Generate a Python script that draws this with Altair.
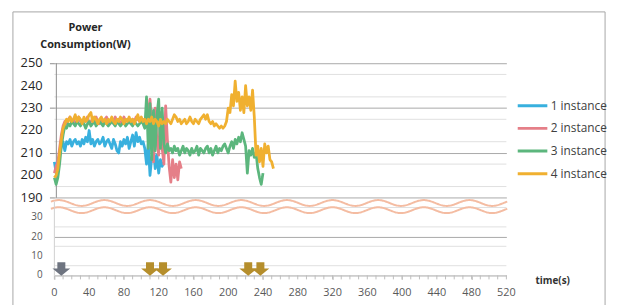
import altair as alt
import pandas as pd

series_names = ["1 instance", "2 instance", "3 instance", "4 instance"]
series_colors = ["#38b0de", "#e57f88", "#5cb67d", "#f0b030"]
sample_step = 2  # seconds between samples

blue = [206, 201, 204, 209, 213, 215, 211, 215, 214, 216,
        213, 215, 216, 214, 215, 213, 216, 214, 217, 215,
        220, 214, 216, 213, 215, 216, 214, 215, 217, 213,
        215, 216, 214, 212, 216, 214, 211, 210, 215, 213,
        216, 214, 217, 212, 215, 218, 213, 219, 215, 217,
        214, 215, 212, 205, 214, 200, 208, 212, 203, 209,
        201, 207, 204, 206]

pink = [201, 204, 206, 212, 218, 222, 224, 223, 225, 226, 224,
        225, 223, 224, 226, 224, 223, 225, 224, 226, 223,
        224, 225, 224, 226, 224, 223, 225, 224, 225, 226,
        224, 223, 225, 224, 226, 224, 225, 223, 224, 226,
        224, 225, 224, 223, 225, 224, 226, 225, 224, 225,
        225, 223, 226, 228, 234, 222, 206, 230, 215, 209, 228, 212,
        205, 231, 216, 204, 197, 207, 199, 205, 198, 206, 203]

green = [199, 196, 199, 205, 213, 218, 222, 221, 223, 222, 224,
         223, 222, 224, 223, 222, 224, 223, 221, 223, 224,
         222, 223, 224, 222, 223, 224, 223, 222, 224, 223,
         222, 223, 224, 223, 222, 224, 223, 222, 223, 224,
         222, 223, 224, 223, 222, 224, 223, 222, 223, 224,
         223, 221, 235, 212, 232, 207, 229, 211, 227, 234, 212, 230, 214, 210, 214,
         211, 212, 210, 213, 211, 212, 209, 211, 213, 210,
         212, 211, 209, 212, 210, 211, 213, 209, 212, 211,
         210, 212, 213, 210, 212, 209, 211, 213, 210, 212,
         211, 213, 214, 212, 210, 213, 215, 212, 216, 214,
         217, 215, 219, 216, 213, 201, 211, 209, 212, 208,
         210, 203, 199, 196, 201]

orange = [199, 200, 203, 210, 216, 221, 223, 225, 224, 226, 224,
          225, 227, 224, 226, 225, 223, 226, 224, 225, 227,
          228, 224, 226, 225, 223, 225, 226, 224, 225, 223,
          225, 224, 226, 224, 223, 225, 224, 226, 225, 223,
          225, 224, 226, 224, 225, 223, 225, 227, 224, 226,
          224, 225, 223, 225, 224, 226, 223, 225, 224, 222,
          225, 223, 224, 223, 225, 224, 223, 225, 227, 226,
          224, 225, 223, 224, 225, 223, 224, 226, 224, 223,
          225, 224, 223, 225, 226, 227, 225, 227, 224, 223,
          224, 222, 223, 222, 221, 222, 221, 222, 224,
          230, 228, 236, 231, 242, 233, 237, 229, 235, 228,
          240, 231, 235, 229, 238, 226, 209, 213, 206, 212,
          204, 214, 210, 213, 207, 206, 203]

gray_arrow_times = [8]
gold_arrow_times = [110, 125, 223, 237]
arrow_level = 3.3

x_label_values = list(range(0, 521, 40))
x_minor_ticks = list(range(0, 521, 10))
y_upper_labels = [190, 200, 210, 220, 230, 240, 250]
y_lower_labels = [0, 10, 20, 30]
y_minor_values = [5, 15, 25, 35, 195, 205, 215, 225, 235, 245]

rows = []
for name, vals in zip(series_names, [blue, pink, green, orange]):
    for i, v in enumerate(vals):
        rows.append({"time": i * sample_step, "power": v, "series": name})
df = pd.DataFrame(rows)

x_scale = alt.Scale(domain=[0, 520], nice=False)
y_scale = alt.Scale(domain=[0, 40, 190, 250], range=[215, 136.3, 136.3, 0], nice=False, zero=False)

FONT = "Open Sans"

x_axis = alt.Axis(
    values=x_label_values,
    labels=False,
    grid=False,
    domainColor="#d0d0d0",
    tickColor="#bdbdbd",
    tickSize=4,
    title="time(s)",
    titleFont=FONT,
    titleFontSize=10,
    titleFontWeight="bold",
    titleColor="#333333",
    titleX=487,
    titleY=0,
    titleAlign="left",
    titleBaseline="top",
    titleAnchor="start",
)

y_axis = alt.Axis(
    values=y_lower_labels + y_upper_labels,
    labels=False,
    domain=False,
    gridColor="#a9a9a9",
    tickColor={"condition": {"test": "datum.value >= 100", "value": "#8c8c8c"}, "value": "transparent"},
    tickSize=5,
    title=["Power", "Consumption(W)"],
    titleFont=FONT,
    titleFontSize=11,
    titleFontWeight="bold",
    titleColor="#262626",
    titleAngle=0,
    titleAlign="center",
    titleBaseline="top",
    titleX=31,
    titleY=-42,
    titleLineHeight=17,
)

lines = alt.Chart(df).mark_line(strokeWidth=2.8, strokeJoin="round").encode(
    x=alt.X("time:Q", scale=x_scale, axis=x_axis),
    y=alt.Y("power:Q", scale=y_scale, axis=y_axis),
    color=alt.Color(
        "series:N",
        scale=alt.Scale(domain=series_names, range=series_colors),
        legend=alt.Legend(
            orient="none", legendX=468, legendY=36, title=None,
            symbolType="stroke", symbolStrokeWidth=3, symbolSize=900,
            clipHeight=14, rowPadding=9, labelFontSize=12, labelFont=FONT,
            labelColor="#404040", labelOffset=2, padding=0,
        ),
    ),
    order=alt.Order("time:Q"),
)

# tick labels as text marks placed through the scales
x_labels = alt.Chart(pd.DataFrame({"t": x_label_values})).mark_text(
    font=FONT, fontSize=11, color="#595959", baseline="middle", align="center", dy=18).encode(
    x=alt.X("t:Q", scale=x_scale), y=alt.Y(datum=0, scale=y_scale), text=alt.Text("t:Q"))
y_labels_up = alt.Chart(pd.DataFrame({"v": y_upper_labels})).mark_text(
    font=FONT, fontSize=13, color="#262626", baseline="middle", align="right", dx=-12).encode(
    x=alt.X(datum=0, scale=x_scale), y=alt.Y("v:Q", scale=y_scale), text=alt.Text("v:Q"))
y_labels_low = alt.Chart(pd.DataFrame({"v": y_lower_labels})).mark_text(
    font=FONT, fontSize=10, color="#595959", baseline="middle", align="right", dx=-12).encode(
    x=alt.X(datum=0, scale=x_scale), y=alt.Y("v:Q", scale=y_scale), text=alt.Text("v:Q"))

# light minor gridlines every 5 units
minor_grid = alt.Chart(pd.DataFrame({"v": y_minor_values})).mark_rule(color="#e0e0e0", strokeWidth=1).encode(
    x=alt.X(datum=0, scale=x_scale), x2=alt.X2(datum=520), y=alt.Y("v:Q", scale=y_scale))

# minor x ticks every 10 s
minor_ticks = alt.Chart(pd.DataFrame({"t": x_minor_ticks})).mark_rule(
    color="#bdbdbd", strokeWidth=1, yOffset=0, y2Offset=4).encode(
    x=alt.X("t:Q", scale=x_scale), y=alt.Y(datum=0, scale=y_scale), y2=alt.Y2(datum=0))

# decorative axis break waves
waves = (
    alt.Chart(alt.sequence(-4, 522, 1, as_="t"))
    .transform_calculate(
        a="37.3 + 1.5*cos(2*PI*(datum.t-5)/52.5)",
        b="33.6 + 1.5*cos(2*PI*(datum.t-5)/52.5)",
    )
    .transform_fold(["a", "b"], as_=["w", "v"])
    .mark_line(color="#f4bca2", strokeWidth=2)
    .encode(x=alt.X("t:Q", scale=x_scale), y=alt.Y("v:Q", scale=y_scale), detail="w:N")
)

axis_seg = pd.DataFrame({"x": [0, 0], "y1": [190, 0], "y2": [250, 38], "seg": ["upper", "lower"]})
upper_axis = alt.Chart(axis_seg[axis_seg.seg == "upper"]).mark_rule(color="#8c8c8c", xOffset=2).encode(
    x=alt.X("x:Q", scale=x_scale), y=alt.Y("y1:Q", scale=y_scale), y2="y2:Q")
lower_axis = alt.Chart(axis_seg[axis_seg.seg == "lower"]).mark_rule(color="#cfcfcf").encode(
    x=alt.X("x:Q", scale=x_scale), y=alt.Y("y1:Q", scale=y_scale), y2="y2:Q")

arrow_path = "M-0.45,-0.75L0.45,-0.75L0.45,-0.05L1,-0.05L0,0.75L-1,-0.05L-0.45,-0.05Z"
gray_arrows = alt.Chart(pd.DataFrame({"t": gray_arrow_times, "y": [arrow_level] * len(gray_arrow_times)})).mark_point(
    shape=arrow_path, filled=True, size=324, opacity=1, color="#6e7480").encode(
    x=alt.X("t:Q", scale=x_scale), y=alt.Y("y:Q", scale=y_scale))
gold_arrows = alt.Chart(pd.DataFrame({"t": gold_arrow_times, "y": [arrow_level] * len(gold_arrow_times)})).mark_point(
    shape=arrow_path, filled=True, size=324, opacity=1, color="#b58e2c").encode(
    x=alt.X("t:Q", scale=x_scale), y=alt.Y("y:Q", scale=y_scale))

frame = alt.Chart(pd.DataFrame({"k": [0]})).mark_rect(fillOpacity=0, stroke="#a6a6a6", strokeWidth=1).encode(
    x=alt.value(-42), x2=alt.value(558), y=alt.value(-52), y2=alt.value(262))

chart = alt.layer(minor_grid, minor_ticks, frame, waves, upper_axis, lower_axis, lines, gray_arrows, gold_arrows,
                  x_labels, y_labels_up, y_labels_low).properties(
    width=458, height=215,
    autosize=alt.AutoSizeParams(type="none"),
    padding={"left": 47, "top": 54, "right": 105, "bottom": 28},
    background="white",
).configure_view(stroke=None)

chart.save("out.html", embed_options={"renderer": "svg", "actions": False})
